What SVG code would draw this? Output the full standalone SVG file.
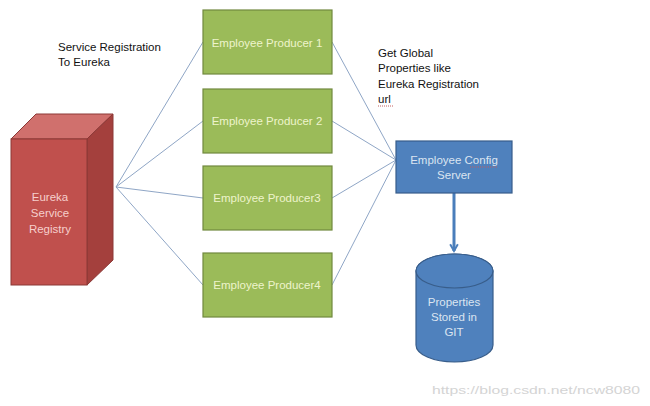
<svg xmlns="http://www.w3.org/2000/svg" width="650" height="406" viewBox="0 0 650 406">
<style>
text{font-family:"Liberation Sans",Arial,sans-serif;font-size:11.5px}
.lbl{fill:#111}
.green{fill:#9bbb59;stroke:#71893f;stroke-width:1.2}
.gt{fill:#eef4cc;text-anchor:middle;font-size:11.5px}
.conn{stroke:#8fa6c6;stroke-width:1;fill:none}
.bt{fill:#dbe5f1;text-anchor:middle;font-size:11.5px}
</style>
<defs>
<marker id="ah" viewBox="0 0 10 10" refX="8" refY="5" markerWidth="3.2" markerHeight="3.2" orient="auto" markerUnits="strokeWidth">
<path d="M1,1 L8,5 L1,9" fill="none" stroke="#4a7ebb" stroke-width="2"/>
</marker>
</defs>
<rect width="650" height="406" fill="#fff"/>
<g id="connectors">
<line class="conn" x1="116" y1="187" x2="203" y2="42"/>
<line class="conn" x1="116" y1="187" x2="203" y2="121"/>
<line class="conn" x1="116" y1="187" x2="203" y2="198"/>
<line class="conn" x1="116" y1="187" x2="203" y2="285"/>
<line class="conn" x1="332" y1="42" x2="396" y2="160"/>
<line class="conn" x1="332" y1="121" x2="396" y2="160"/>
<line class="conn" x1="332" y1="198" x2="396" y2="160"/>
<line class="conn" x1="332" y1="285" x2="396" y2="160"/>
<line x1="454" y1="193" x2="454" y2="251" stroke="#4a7ebb" stroke-width="3" marker-end="url(#ah)"/>
</g>
<g id="label-registration">
<text class="lbl" x="58" y="51" font-size="12">Service Registration</text>
<text class="lbl" x="58" y="66" font-size="12">To Eureka</text>
</g>
<g id="label-global">
<text class="lbl" x="378" y="57" font-size="12">Get Global</text>
<text class="lbl" x="378" y="72" font-size="12">Properties like</text>
<text class="lbl" x="378" y="88" font-size="12">Eureka Registration</text>
<text class="lbl" x="378" y="103" font-size="12">url</text>
<line x1="378" y1="106" x2="394" y2="106" stroke="#c06060" stroke-width="1" stroke-dasharray="1,1"/>
</g>
<g id="eureka">
<polygon points="11,139 36,114 113,114 87,139" fill="#d0706d" stroke="#8c3836" stroke-width="1"/>
<polygon points="87,139 113,114 113,260 87,285" fill="#a4403d" stroke="#8c3836" stroke-width="1"/>
<rect x="11" y="139" width="76" height="146" fill="#c0504d" stroke="#8c3836" stroke-width="1"/>
<text x="50" y="201" text-anchor="middle" fill="#f6cfcc" font-size="12.5">Eureka</text>
<text x="50" y="217" text-anchor="middle" fill="#f6cfcc" font-size="12.5">Service</text>
<text x="50" y="233" text-anchor="middle" fill="#f6cfcc" font-size="12.5">Registry</text>
</g>
<g id="producer1">
<rect class="green" x="203" y="10" width="129" height="64"/>
<text class="gt" x="267" y="47">Employee Producer 1</text>
</g>
<g id="producer2">
<rect class="green" x="203" y="89" width="129" height="64"/>
<text class="gt" x="267" y="125">Employee Producer 2</text>
</g>
<g id="producer3">
<rect class="green" x="203" y="166" width="129" height="64"/>
<text class="gt" x="267" y="202">Employee Producer3</text>
</g>
<g id="producer4">
<rect class="green" x="203" y="253" width="129" height="64"/>
<text class="gt" x="267" y="289">Employee Producer4</text>
</g>
<g id="config">
<rect x="396" y="141" width="116" height="52" fill="#4f81bd" stroke="#385d8a" stroke-width="1.2"/>
<text class="bt" x="454" y="164">Employee Config</text>
<text class="bt" x="454" y="179">Server</text>
<line x1="470" y1="167" x2="497" y2="167" stroke="#c06060" stroke-width="1" stroke-dasharray="1,1"/>
</g>
<g id="git">
<path d="M416,271 L416,345 A38.5,17 0 0 0 493,345 L493,271 A38.5,17 0 0 0 416,271 Z" fill="#4f81bd" stroke="#385d8a" stroke-width="1.2"/>
<ellipse cx="454.5" cy="271" rx="38.5" ry="17" fill="#4f81bd" stroke="#385d8a" stroke-width="1.2"/>
<text class="bt" x="454" y="306">Properties</text>
<text class="bt" x="454" y="321">Stored in</text>
<text class="bt" x="454" y="336">GIT</text>
</g>
<g id="watermark">
<text x="432" y="394" fill="#d4d4d4" font-size="18" textLength="208" lengthAdjust="spacingAndGlyphs">https://blog.csdn.net/ncw8080</text>
</g>
</svg>
